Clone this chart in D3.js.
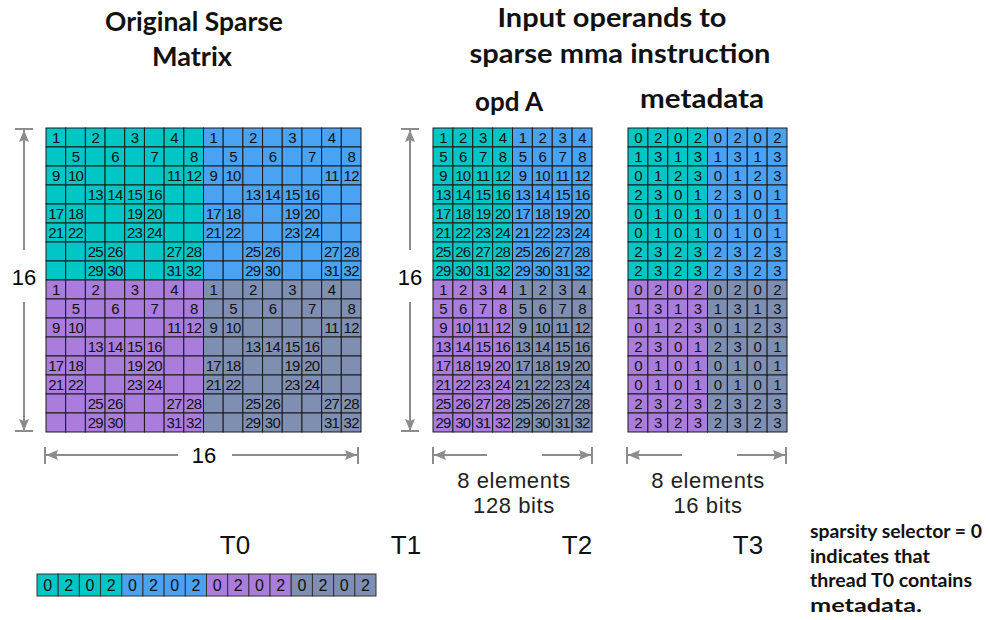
<!DOCTYPE html>
<html lang="en">
  <head>
    <meta charset="UTF-8" />
    <title>Sparse matrix metadata</title>
    <style>
      body { margin: 0; background: #fff; }
      svg text { font-family: "Liberation Sans", Arial, sans-serif; }
      .title { font-family: Lato, "Open Sans", sans-serif; font-weight: 700; }
    </style>
  </head>
  <body>
    <script src="https://d3js.org/d3.v7.min.js"></script>
    <script>
      const width = 989
      const height = 620

      // values kept in each 8x8 quadrant (4 per row, 2 in each group of 4)
      const blockValues = [
        [1, 2, 3, 4],
        [5, 6, 7, 8],
        [9, 10, 11, 12],
        [13, 14, 15, 16],
        [17, 18, 19, 20],
        [21, 22, 23, 24],
        [25, 26, 27, 28],
        [29, 30, 31, 32]
      ]
      // position of each kept value inside its group of 4 columns
      const metaRows = [
        [0, 2, 0, 2],
        [1, 3, 1, 3],
        [0, 1, 2, 3],
        [2, 3, 0, 1],
        [0, 1, 0, 1],
        [0, 1, 0, 1],
        [2, 3, 2, 3],
        [2, 3, 2, 3]
      ]
      const threadT0 = [0, 2, 0, 2, 0, 2, 0, 2, 0, 2, 0, 2, 0, 2, 0, 2]
      const threadLabels = ["T0", "T1", "T2", "T3"]
      const quadColors = ["#00c6c6", "#4aa2f2", "#aa7ddc", "#7f8fb2"]
      const noteLines = [
        "sparsity selector = 0",
        "indicates that",
        "thread T0 contains",
        "metadata."
      ]

      const svg = d3.select("body").append("svg")
        .attr("width", width)
        .attr("height", height)

      const gray = "#8c8c8c"
      svg.append("defs").append("marker")
        .attr("id", "head")
        .attr("viewBox", "0 0 12 10")
        .attr("refX", 12).attr("refY", 5)
        .attr("markerWidth", 12).attr("markerHeight", 10)
        .attr("markerUnits", "userSpaceOnUse")
        .attr("orient", "auto-start-reverse")
        .append("path")
        .attr("d", "M0,0 L12,5 L0,10 L2,5 Z")
        .attr("fill", gray)

      const quad = (r, c) => (r < 8 ? 0 : 2) + (c < 8 ? 0 : 1)

      // shared row scale for the three 16-row grids
      const y = d3.scaleBand().domain(d3.range(16)).range([128, 432])

      // build the cells for each grid
      const origCells = [], opdCells = [], metaCells = []
      for (let r = 0; r < 16; r++) {
        const br = r % 8
        for (let c = 0; c < 16; c++) {
          const cc = c % 8
          const g = cc < 4 ? 0 : 1
          let label = ""
          for (let k = 0; k < 2; k++) {
            if (g * 4 + metaRows[br][g * 2 + k] === cc) label = blockValues[br][g * 2 + k]
          }
          origCells.push({ r, c, q: quad(r, c), label })
        }
        for (let c = 0; c < 8; c++) {
          const q = (r < 8 ? 0 : 2) + (c < 4 ? 0 : 1)
          opdCells.push({ r, c, q, label: blockValues[br][c % 4] })
          metaCells.push({ r, c, q, label: metaRows[br][c % 4] })
        }
      }

      function drawGrid(cells, x, size) {
        const g = svg.append("g")
        const cell = g.selectAll("g").data(cells).enter().append("g")
        cell.append("rect")
          .attr("x", d => x(d.c))
          .attr("y", d => y(d.r))
          .attr("width", x.bandwidth())
          .attr("height", y.bandwidth())
          .attr("fill", d => quadColors[d.q])
          .attr("stroke", "#1a1a1a")
          .attr("stroke-width", 1)
        cell.append("text")
          .attr("x", d => x(d.c) + x.bandwidth() / 2)
          .attr("y", d => y(d.r) + y.bandwidth() / 2 + 5.5)
          .attr("text-anchor", "middle")
          .attr("font-size", size)
          .attr("letter-spacing", "-0.8px")
          .attr("fill", "#111")
          .text(d => d.label)
      }

      const xOrig = d3.scaleBand().domain(d3.range(16)).range([46, 361])
      const xOpd = d3.scaleBand().domain(d3.range(8)).range([433, 592])
      const xMeta = d3.scaleBand().domain(d3.range(8)).range([628, 787])
      drawGrid(origCells, xOrig, 15)
      drawGrid(opdCells, xOpd, 15)
      drawGrid(metaCells, xMeta, 15)

      // dimension arrows
      function line(x1, y1, x2, y2, arrow) {
        svg.append("line")
          .attr("x1", x1).attr("y1", y1).attr("x2", x2).attr("y2", y2)
          .attr("stroke", gray).attr("stroke-width", 2)
          .attr("marker-end", arrow ? "url(#head)" : null)
      }
      function vArrow(x) {
        line(x - 9, 129, x + 9, 129)
        line(x, 250, x, 130, true)
        line(x, 302, x, 431, true)
        line(x - 9, 431, x + 9, 431)
        svg.append("text").attr("x", x).attr("y", 285)
          .attr("text-anchor", "middle").attr("font-size", 22).text("16")
      }
      function hArrow(x0, x1, a, b) {
        line(x0, 447, x0, 464)
        line(x1, 447, x1, 464)
        line(a, 455, x0 + 1, 455, true)
        line(b, 455, x1 - 1, 455, true)
      }
      vArrow(24)
      vArrow(410)
      hArrow(45, 358, 178, 232)
      svg.append("text").attr("x", 204).attr("y", 463)
        .attr("text-anchor", "middle").attr("font-size", 22).text("16")
      hArrow(433, 592, 487, 542)
      hArrow(627, 786, 682, 737)

      const sub = [
        { x: 514, lines: ["8 elements", "128 bits"] },
        { x: 708, lines: ["8 elements", "16 bits"] }
      ]
      sub.forEach(s => {
        s.lines.forEach((t, i) => {
          svg.append("text").attr("x", s.x).attr("y", 488 + i * 25)
            .attr("text-anchor", "middle").attr("font-size", 22)
            .attr("letter-spacing", "0.6px")
            .attr("fill", "#222").text(t)
        })
      })

      // titles (widths matched to the reference lettering)
      const titles = [
        { t: "Original Sparse", x: 194, y: 31, w: 178 },
        { t: "Matrix", x: 192, y: 66, w: 80 },
        { t: "Input operands to", x: 612, y: 27, w: 229 },
        { t: "sparse mma instruction", x: 620, y: 63, w: 301 },
        { t: "opd A", x: 509, y: 111, w: 68 },
        { t: "metadata", x: 702, y: 108, w: 124 }
      ]
      svg.selectAll(".title").data(titles).enter().append("text")
        .attr("class", "title")
        .attr("x", d => d.x).attr("y", d => d.y)
        .attr("text-anchor", "middle").attr("font-size", 26)
        .attr("textLength", d => d.w)
        .attr("lengthAdjust", "spacingAndGlyphs")
        .attr("fill", "#111")
        .text(d => d.t)

      // thread labels
      const tx = d3.scalePoint().domain(threadLabels).range([235, 748])
      svg.selectAll(".tl").data(threadLabels).enter().append("text")
        .attr("x", d => tx(d)).attr("y", 554)
        .attr("text-anchor", "middle").attr("font-size", 26)
        .attr("fill", "#111")
        .text(d => d)

      // metadata held by thread T0
      const xs = d3.scaleBand().domain(d3.range(16)).range([37, 376])
      const strip = svg.append("g").selectAll("g").data(threadT0).enter().append("g")
      strip.append("rect")
        .attr("x", (d, i) => xs(i)).attr("y", 574)
        .attr("width", xs.bandwidth()).attr("height", 22)
        .attr("fill", (d, i) => quadColors[Math.floor(i / 4)])
        .attr("stroke", "#333").attr("stroke-width", 1)
      strip.append("text")
        .attr("x", (d, i) => xs(i) + xs.bandwidth() / 2).attr("y", 591)
        .attr("text-anchor", "middle").attr("font-size", 16)
        .attr("fill", "#111")
        .text(d => d)

      const noteW = [172, 120, 162, 112]
      svg.selectAll(".note").data(noteLines).enter().append("text")
        .attr("class", "title")
        .attr("x", 810).attr("y", (d, i) => 538 + i * 24.5)
        .attr("font-size", 18)
        .attr("textLength", (d, i) => noteW[i])
        .attr("lengthAdjust", "spacingAndGlyphs")
        .attr("fill", "#111")
        .text(d => d)
    </script>
  </body>
</html>
